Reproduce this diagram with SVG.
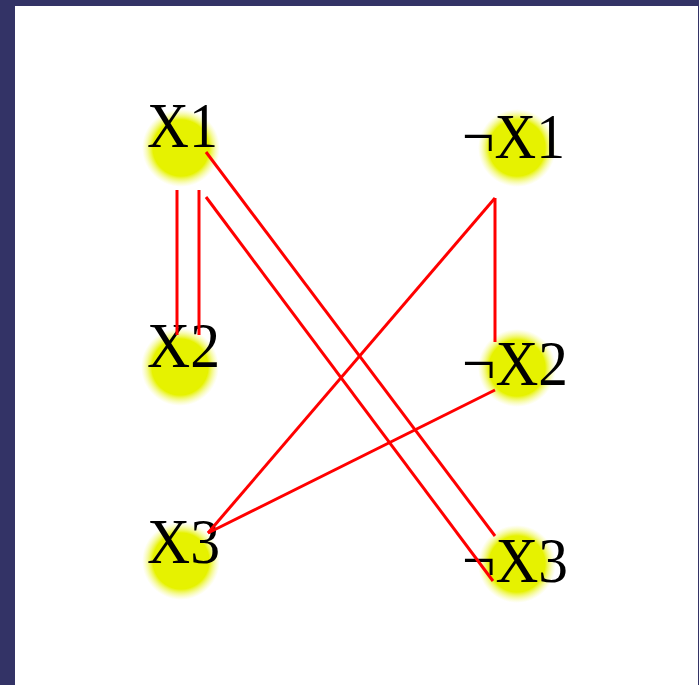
<svg xmlns="http://www.w3.org/2000/svg" width="699" height="685" viewBox="0 0 699 685">
<defs>
<radialGradient id="glow">
<stop offset="0" stop-color="#e6f200"/>
<stop offset="0.72" stop-color="#e6f200"/>
<stop offset="1" stop-color="#f4f880" stop-opacity="0"/>
</radialGradient>
</defs>
<style>
.dot{fill:url(#glow)}
.lbl{font-family:"Liberation Serif","Times New Roman",serif;font-size:63px;fill:#000}
.edge{stroke:#ff0000;stroke-width:3;fill:none}
</style>
<rect x="0" y="0" width="699" height="685" fill="#333366"/>
<rect x="15" y="6" width="683" height="679" fill="#ffffff"/>
<g id="X1"><circle class="dot" cx="181" cy="148" r="39"/><text class="lbl" x="147" y="147" textLength="71" lengthAdjust="spacingAndGlyphs">X1</text></g>
<g id="nX1"><circle class="dot" cx="517" cy="148" r="39"/><text class="lbl" x="462" y="158" textLength="103" lengthAdjust="spacingAndGlyphs">¬X1</text></g>
<g id="X2"><circle class="dot" cx="180" cy="367" r="39"/><text class="lbl" x="147" y="367" textLength="73" lengthAdjust="spacingAndGlyphs">X2</text></g>
<g id="nX2"><circle class="dot" cx="517" cy="368" r="39"/><text class="lbl" x="462" y="385" textLength="106" lengthAdjust="spacingAndGlyphs">¬X2</text></g>
<g id="X3"><circle class="dot" cx="181" cy="561" r="39"/><text class="lbl" x="147" y="563" textLength="73" lengthAdjust="spacingAndGlyphs">X3</text></g>
<g id="nX3"><circle class="dot" cx="517" cy="564" r="39"/><text class="lbl" x="462" y="582" textLength="106" lengthAdjust="spacingAndGlyphs">¬X3</text></g>
<g id="connectors">
<line class="edge" x1="177" y1="190" x2="177" y2="335"/>
<line class="edge" x1="199" y1="190" x2="199" y2="335"/>
<line class="edge" x1="206" y1="152" x2="495" y2="536"/>
<line class="edge" x1="206" y1="197" x2="493" y2="581"/>
<line class="edge" x1="495" y1="198" x2="495" y2="342"/>
<line class="edge" x1="495" y1="198" x2="208" y2="533"/>
<line class="edge" x1="495" y1="390" x2="208" y2="533"/>
</g>
</svg>
